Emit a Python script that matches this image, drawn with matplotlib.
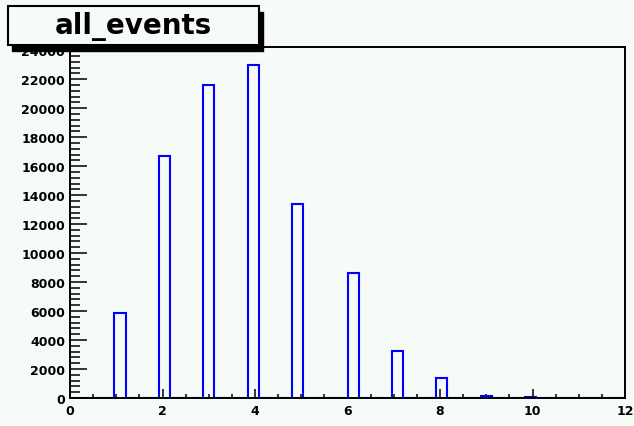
import numpy as np
import matplotlib
matplotlib.use("Agg")
from matplotlib import pyplot as plt
from matplotlib.patches import Rectangle
from matplotlib.ticker import MultipleLocator

# number of events per category
values = [1, 2, 3, 4, 5, 6, 7, 8, 9, 10]
counts = [5850, 16700, 21600, 23000, 13400, 8600, 3250, 1350, 170, 70]
title = "all_events"
nbins = 50
xrange_ = (0, 12)

bg = "#f6fbf8"
W, H = 634, 427
fig = plt.figure(figsize=(W / 100, H / 100), dpi=100, facecolor=bg)
ax = fig.add_axes([70 / W, (H - 399) / H, 555 / W, 350.7 / H])
ax.set_facecolor(bg)

ax.hist(values, bins=nbins, range=xrange_, weights=counts, histtype="step",
        color="#0000ff", lw=1.5)

ax.set_xlim(0, 12)
ax.set_ylim(0, 24200)
ax.xaxis.set_major_locator(MultipleLocator(2))
ax.xaxis.set_minor_locator(MultipleLocator(0.5))
ax.yaxis.set_major_locator(MultipleLocator(2000))
ax.yaxis.set_minor_locator(MultipleLocator(400))

ax.tick_params(axis="both", which="both", direction="in", width=1.1, color="black",
               top=False, right=False)
ax.tick_params(axis="y", which="major", length=12, pad=3.5)
ax.tick_params(axis="y", which="minor", length=7)
ax.tick_params(axis="x", which="major", length=6.5, pad=4)
ax.tick_params(axis="x", which="minor", length=3)
for lab in ax.get_xticklabels() + ax.get_yticklabels():
    lab.set_fontweight("bold")
    lab.set_fontsize(9)
for s in ax.spines.values():
    s.set_linewidth(1.4)
    s.set_color("black")

# title box with shadow, drawn on top of the axes
def px(x, y):
    return x / W, 1 - y / H

x0, y0, x1, y1 = 8, 7, 259, 46
sx, sy = px(x0 + 4, y1 + 6)
fig.patches.append(Rectangle((sx, sy), (x1 - x0) / W, (y1 - y0) / H,
                             transform=fig.transFigure, facecolor="black",
                             edgecolor="black", zorder=5))
bx, by = px(x0, y1)
fig.patches.append(Rectangle((bx, by), (x1 - x0) / W, (y1 - y0) / H,
                             transform=fig.transFigure, facecolor=bg,
                             edgecolor="black", lw=1.5, zorder=6))
tx, ty = px((x0 + x1) / 2, (y0 + y1) / 2)
fig.text(tx, ty, title, ha="center", va="center", fontsize=20,
         fontweight="bold", zorder=7)

fig.savefig("out.png", dpi=100, facecolor=bg)
